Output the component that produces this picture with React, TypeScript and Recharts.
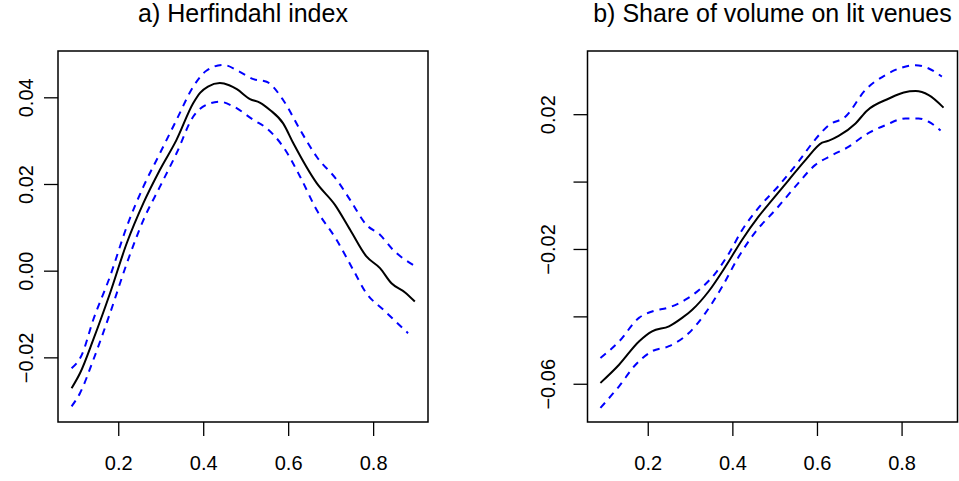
import React from "react";
import { LineChart, Line, XAxis, YAxis, ReferenceArea } from "recharts";

const FONT = "'Liberation Sans', Arial, Helvetica, sans-serif";

// panel a) Herfindahl index: fit and confidence band
const herfFitX = [0.089, 0.109, 0.14, 0.1795, 0.219, 0.258, 0.297, 0.336, 0.3755, 0.392, 0.41, 0.438, 0.46, 0.478, 0.509, 0.532, 0.556, 0.587, 0.611, 0.666, 0.709, 0.745, 0.783, 0.815, 0.842, 0.874, 0.897];
const herfFitY = [-0.027, -0.0235, -0.0158, -0.0051, 0.0065, 0.0157, 0.0234, 0.0303, 0.0388, 0.0412, 0.0426, 0.0434, 0.0429, 0.042, 0.0397, 0.0389, 0.0372, 0.0341, 0.0295, 0.0203, 0.0153, 0.0095, 0.0034, 0.0007, -0.0028, -0.0049, -0.007];
const herfUpX = [0.089, 0.113, 0.14, 0.1795, 0.219, 0.258, 0.297, 0.336, 0.3755, 0.407, 0.446, 0.485, 0.517, 0.548, 0.587, 0.627, 0.666, 0.713, 0.745, 0.783, 0.815, 0.846, 0.897];
const herfUpY = [-0.0224, -0.0193, -0.0112, -0.0012, 0.0103, 0.0195, 0.0272, 0.0349, 0.0426, 0.0463, 0.0476, 0.046, 0.0443, 0.0437, 0.0395, 0.0326, 0.0264, 0.0211, 0.0164, 0.0107, 0.0084, 0.0049, 0.0012];
const herfLoX = [0.089, 0.109, 0.14, 0.1795, 0.219, 0.258, 0.297, 0.336, 0.3755, 0.407, 0.438, 0.47, 0.517, 0.548, 0.587, 0.627, 0.666, 0.713, 0.752, 0.783, 0.823, 0.881];
const herfLoY = [-0.0312, -0.0281, -0.0205, -0.0097, 0.0018, 0.0118, 0.0195, 0.0272, 0.0357, 0.0384, 0.0391, 0.038, 0.0349, 0.033, 0.0287, 0.0218, 0.0141, 0.0072, 0.0003, -0.0051, -0.0089, -0.0143];

// panel b) Share of volume on lit venues
const litFitX = [0.087, 0.131, 0.178, 0.209, 0.249, 0.28, 0.304, 0.343, 0.383, 0.422, 0.461, 0.493, 0.532, 0.572, 0.611, 0.627, 0.65, 0.69, 0.717, 0.769, 0.804, 0.832, 0.863, 0.898];
const litFitY = [-0.0596, -0.0542, -0.0473, -0.0443, -0.0428, -0.0403, -0.0379, -0.0324, -0.025, -0.0171, -0.0102, -0.0053, 0.0006, 0.0066, 0.0117, 0.0123, 0.0137, 0.0174, 0.0212, 0.0248, 0.0266, 0.027, 0.0258, 0.0221];
const litUpX = [0.087, 0.131, 0.178, 0.209, 0.249, 0.288, 0.32, 0.359, 0.391, 0.422, 0.461, 0.509, 0.556, 0.595, 0.627, 0.666, 0.713, 0.761, 0.8, 0.832, 0.863, 0.894];
const litUpY = [-0.0522, -0.0473, -0.0403, -0.0384, -0.0372, -0.0349, -0.032, -0.027, -0.0211, -0.0142, -0.0076, -0.001, 0.0062, 0.0127, 0.0169, 0.0194, 0.0273, 0.0318, 0.034, 0.0347, 0.0337, 0.0313];
const litLoX = [0.087, 0.131, 0.17, 0.209, 0.249, 0.296, 0.335, 0.375, 0.414, 0.454, 0.501, 0.548, 0.595, 0.635, 0.674, 0.713, 0.761, 0.808, 0.839, 0.863, 0.891];
const litLoY = [-0.067, -0.0606, -0.0542, -0.0502, -0.0487, -0.0448, -0.0389, -0.031, -0.0221, -0.0147, -0.0082, -0.0013, 0.0051, 0.008, 0.0105, 0.014, 0.0169, 0.0189, 0.0189, 0.0179, 0.0153];

const xTicks = [0.2, 0.4, 0.6, 0.8];
const xTickLabels = ["0.2", "0.4", "0.6", "0.8"];
const herfYTicks = [-0.02, 0, 0.02, 0.04];
const herfYLabels = ["\u22120.02", "0.00", "0.02", "0.04"];
const litYTicks = [-0.06, -0.04, -0.02, 0, 0.02];
const litYLabels = ["\u22120.06", "", "\u22120.02", "", "0.02"];

const toPoints = (xs: number[], ys: number[]) => xs.map((x, i) => ({ x, y: ys[i] }));

const labelStyle = { fontSize: "20px", fontFamily: FONT, fill: "#000" };

const XTick = (props: any) => (
  <text x={props.x} y={470} textAnchor="middle" style={labelStyle}>
    {xTickLabels[props.index]}
  </text>
);

const makeYTick = (bx: number, labels: string[]) => (props: any) => {
  const label = labels[props.index];
  if (!label) return <g />;
  return (
    <text x={bx} y={props.y} transform={`rotate(-90 ${bx} ${props.y})`} textAnchor="middle" style={labelStyle}>
      {label}
    </text>
  );
};

interface PanelProps {
  title: string;
  width: number;
  yAxisWidth: number;
  rightMargin: number;
  xDomain: [number, number];
  yDomain: [number, number];
  yTicks: number[];
  yLabels: string[];
  labelX: number;
  fit: { x: number; y: number }[];
  upper: { x: number; y: number }[];
  lower: { x: number; y: number }[];
}

function Panel(p: PanelProps) {
  const axisStyle = { stroke: "#000", strokeWidth: 1.3 };
  return (
    <div style={{ position: "relative", width: p.width, height: 481 }}>
      <div
        style={{
          position: "absolute",
          left: p.yAxisWidth,
          width: p.width - p.yAxisWidth - p.rightMargin,
          top: 1,
          textAlign: "center",
          fontSize: 25,
          lineHeight: "25px",
          fontFamily: FONT,
          whiteSpace: "nowrap",
          color: "#000",
        }}
      >
        {p.title}
      </div>
      <LineChart width={p.width} height={481} margin={{ top: 51, right: p.rightMargin, bottom: 0, left: 0 }}>
        <XAxis
          type="number"
          dataKey="x"
          domain={p.xDomain}
          allowDataOverflow
          ticks={xTicks}
          height={59}
          axisLine={false}
          tickSize={14}
          tickLine={axisStyle}
          tick={XTick}
        />
        <YAxis
          type="number"
          dataKey="y"
          domain={p.yDomain}
          allowDataOverflow
          ticks={p.yTicks}
          width={p.yAxisWidth}
          axisLine={false}
          tickSize={14}
          tickLine={axisStyle}
          tick={makeYTick(p.labelX, p.yLabels)}
        />
        <Line data={p.upper} dataKey="y" type="monotone" stroke="#0000ff" strokeWidth={2} strokeDasharray="7 6" dot={false} isAnimationActive={false} />
        <Line data={p.lower} dataKey="y" type="monotone" stroke="#0000ff" strokeWidth={2} strokeDasharray="7 6" dot={false} isAnimationActive={false} />
        <Line data={p.fit} dataKey="y" type="monotone" stroke="#000" strokeWidth={2} dot={false} isAnimationActive={false} />
        <ReferenceArea
          x1={p.xDomain[0]}
          x2={p.xDomain[1]}
          y1={p.yDomain[0]}
          y2={p.yDomain[1]}
          fill="none"
          stroke="#000"
          strokeWidth={1.5}
          ifOverflow="visible"
        />
      </LineChart>
    </div>
  );
}

export default function App() {
  return (
    <div style={{ position: "absolute", left: 0, top: 0, width: 959, height: 481, background: "#fff", display: "flex" }}>
      <Panel
        title="a) Herfindahl index"
        width={479}
        yAxisWidth={58}
        rightMargin={51}
        xDomain={[0.057, 0.928]}
        yDomain={[-0.0348, 0.0508]}
        yTicks={herfYTicks}
        yLabels={herfYLabels}
        labelX={33.3}
        fit={toPoints(herfFitX, herfFitY)}
        upper={toPoints(herfUpX, herfUpY)}
        lower={toPoints(herfLoX, herfLoY)}
      />
      <Panel
        title="b) Share of volume on lit venues"
        width={480}
        yAxisWidth={108.5}
        rightMargin={1.5}
        xDomain={[0.0564, 0.931]}
        yDomain={[-0.0712, 0.0389]}
        yTicks={litYTicks}
        yLabels={litYLabels}
        labelX={76}
        fit={toPoints(litFitX, litFitY)}
        upper={toPoints(litUpX, litUpY)}
        lower={toPoints(litLoX, litLoY)}
      />
    </div>
  );
}
